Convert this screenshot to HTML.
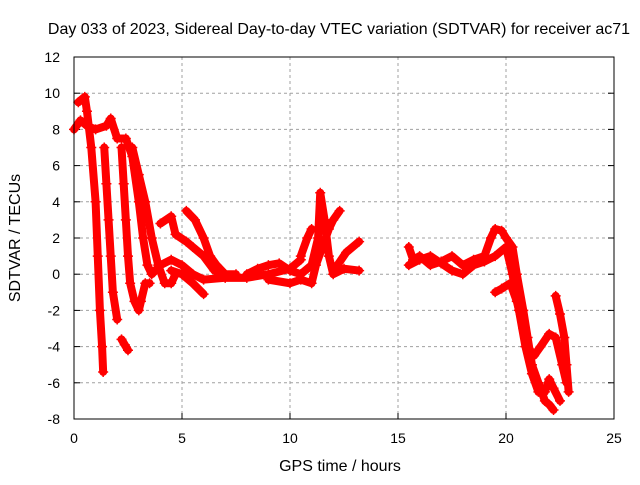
<!DOCTYPE html>
<html><head><meta charset="utf-8"><style>
body{margin:0;background:#fff}
svg text{font-family:"Liberation Sans",sans-serif;font-size:14px;fill:#000}
svg text.big{font-size:16px}
</style></head><body>
<svg id="c" width="640" height="480" xmlns="http://www.w3.org/2000/svg">
<text class="big" x="339" y="34" text-anchor="middle">Day 033 of 2023, Sidereal Day-to-day VTEC variation (SDTVAR) for receiver ac71</text>
<text class="big" x="340" y="471" text-anchor="middle">GPS time / hours</text>
<text class="big" transform="translate(20,238) rotate(-90)" text-anchor="middle">SDTVAR / TECUs</text>
<g id="grid"></g><g id="ticks"></g><g id="marks"></g>
<rect x="74" y="57" width="540" height="362" fill="none" stroke="#000" stroke-width="1"/>
</svg>
<script>
const xTicks=[0,5,10,15,20,25];
const yTicks=[-8,-6,-4,-2,0,2,4,6,8,10,12];
const sA=[[0,8],[0.3,8.5],[0.6,8.2],[1.0,8],[1.5,8.2],[1.7,8.6],[2,7.5],[2.4,7.5],[2.7,6.5],[3.0,4],[3.2,2],[3.4,0.5],[3.6,0],[4,0.5],[4.5,0.8],[5,0.5],[5.5,0],[6,-0.3],[7,-0.2],[8,-0.2],[9,0],[10,0.3],[10.5,0.8]];
const sB=[[0.2,9.5],[0.5,9.8],[0.6,9],[0.8,7],[1.0,4],[1.1,1],[1.2,-2],[1.3,-4],[1.35,-5.4]];
const sC=[[1.4,7],[1.5,5],[1.6,3],[1.7,1],[1.8,-1],[2.0,-2.5]];
const sD=[[2.2,7],[2.3,5],[2.4,3],[2.5,1],[2.6,-0.5],[2.8,-1.5],[3.0,-2],[3.1,-1.5],[3.3,-0.5],[3.5,-0.5]];
const sE=[[2.2,-3.6],[2.35,-3.9],[2.5,-4.2]];
const sF=[[2.7,7],[3,5.5],[3.3,4],[3.6,2],[3.9,0.5],[4.2,-0.5],[4.5,-0.5],[4.7,0]];
const sG=[[4.0,2.8],[4.5,3.2],[4.7,2.2],[5.2,1.8],[5.5,1.5],[6,1],[6.5,0.2],[7,0]];
const sH=[[5.2,3.5],[5.6,3],[6,2],[6.3,1],[6.6,0.5],[7.0,0],[7.5,0]];
const sI=[[4.5,0.2],[5,0],[5.5,-0.5],[6,-1.1]];
const sJ=[[8,0],[8.5,0.3],[9,0.5],[9.5,0.6],[10,0.2],[10.5,0],[11,0.5],[11.3,2],[11.4,4.5],[11.6,3],[11.8,1],[12,0],[12.5,0.3],[13.2,0.2]];
const sK=[[9,-0.3],[10,-0.5],[10.5,-0.3],[11.0,-0.5],[11.2,0.5],[11.5,1.5],[11.8,2.5],[12,3.0],[12.3,3.5]];
const sK2=[[10.5,1],[10.8,2],[11,2.5]];
const sK3=[[12.2,0.5],[12.6,1.2],[13.2,1.8]];
const sL=[[15.5,1.5],[15.7,0.8],[16,1],[16.5,0.5],[17,0.7],[17.5,1],[18,0.5],[18.5,0.8],[19,1],[19.3,2],[19.5,2.5],[19.8,2.4],[20.0,2],[20.3,1.5],[20.5,0],[20.8,-2],[21,-3.5],[21.2,-5],[21.5,-6],[21.8,-7],[22,-7.2],[22.2,-7.5]];
const sM=[[15.5,0.5],[16,0.8],[16.5,1],[17,0.6],[17.5,0.2],[18,0],[18.5,0.5],[19,0.7],[19.5,1],[20,1.5],[20.3,0],[20.6,-2],[20.9,-4],[21.2,-5.5],[21.5,-6.5],[21.8,-6.5],[22.0,-5.8],[22.2,-6.3],[22.5,-7.0]];
const sN=[[19.5,-1],[19.8,-0.8],[20.2,-0.5],[20.5,-1.5],[20.8,-3],[21,-4],[21.3,-4.5],[21.6,-4],[22.0,-3.3],[22.3,-3.5],[22.6,-5],[22.8,-6]];
const sO=[[22.3,-1.2],[22.5,-2.2],[22.7,-3.5],[22.8,-5],[22.9,-6.5]];
const series=[sA,sB,sC,sD,sE,sF,sG,sH,sI,sJ,sK,sK2,sK3,sL,sM,sN,sO];
const X=v=>74+v*540/25, Y=v=>57+(12-v)*362/20;
const NS='http://www.w3.org/2000/svg';
const g=document.getElementById('grid'),t=document.getElementById('ticks'),m=document.getElementById('marks');
function mk(tag,a,p){const e=document.createElementNS(NS,tag);for(const k in a)e.setAttribute(k,a[k]);p.appendChild(e);return e;}
xTicks.forEach(v=>{
 if(v>0&&v<25){const l=mk('line',{x1:X(v),x2:X(v),y1:57,y2:419,stroke:'#a0a0a0','stroke-dasharray':'3,3'},g);
 
 }
 mk('line',{x1:X(v),x2:X(v),y1:419,y2:413,stroke:'#000'},t);
 const tx=mk('text',{x:X(v),y:443,'text-anchor':'middle'},t);tx.textContent=v;
 
 
});
yTicks.forEach(v=>{
 if(v>-8&&v<12){const l=mk('line',{x1:74,x2:614,y1:Y(v),y2:Y(v),stroke:'#a0a0a0','stroke-dasharray':'3,3'},g);
 
 }
 mk('line',{x1:74,x2:80,y1:Y(v),y2:Y(v),stroke:'#000'},t);
 mk('line',{x1:608,x2:614,y1:Y(v),y2:Y(v),stroke:'#000'},t);
 const tx=mk('text',{x:60,y:Y(v)+5,'text-anchor':'end'},t);tx.textContent=v;
 
 
});
series.forEach((s,i)=>{
 const pl=mk('polyline',{points:s.map(p=>X(p[0])+','+Y(p[1])).join(' '),fill:'none',stroke:'#f00','stroke-width':8,'stroke-linejoin':'round','stroke-linecap':'round'},m);
 
 
 s.forEach(p=>{const x=X(p[0]),y=Y(p[1]);
  const pt=mk('path',{d:`M${x-5} ${y}H${x+5}M${x} ${y-5}V${y+5}`,stroke:'#f00','stroke-width':1.5},m);
  
  });
});
</script>
</body></html>
